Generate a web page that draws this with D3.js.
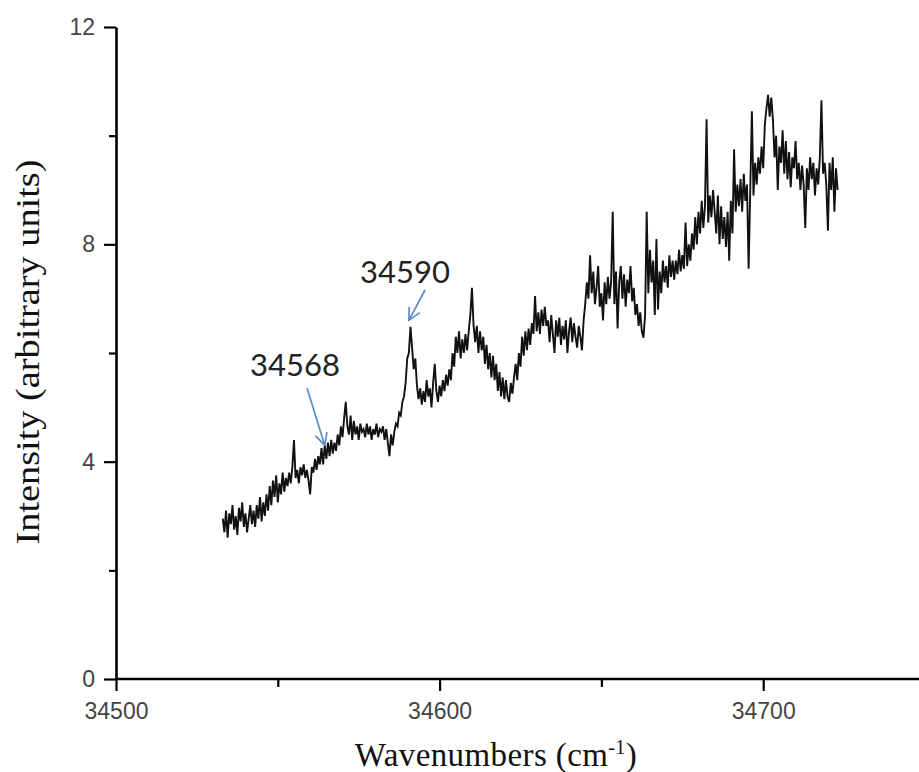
<!DOCTYPE html>
<html>
<head>
<meta charset="utf-8">
<script src="https://cdn.jsdelivr.net/npm/d3@7"></script>
<style>
  body { margin: 0; background: #fff; }
  svg { display: block; }
</style>
</head>
<body>
<svg id="chart" width="919" height="772"></svg>
<script>
// ====== Data ======
// spectrum sampled every 0.5 cm-1, starting at 34533 cm-1
const waveStart = 34533
const waveStep = 0.5
const intensity = [
  // 34533 - 34542.5
  2.95, 2.7, 3.1, 2.6, 3.05, 2.85, 3.2, 2.75, 3.0, 2.65, 3.15, 2.9, 3.25, 2.8, 3.05, 2.7, 2.95, 3.2, 2.85, 3.1,
  // 34543 - 34552.5
  2.8, 3.2, 2.95, 3.35, 2.9, 3.25, 3.0, 3.4, 3.1, 3.55, 3.2, 3.65, 3.35, 3.75, 3.25, 3.6, 3.4, 3.8, 3.45, 3.7,
  // 34553 - 34562.5
  3.55, 3.8, 3.6, 3.9, 4.4, 3.7, 3.85, 3.6, 3.9, 3.75, 3.95, 3.7, 3.85, 3.65, 3.4, 3.9, 3.8, 4.05, 3.85, 4.1,
  // 34563 - 34572.5
  3.95, 4.25, 3.95, 4.3, 4.05, 4.35, 4.1, 4.4, 4.15, 4.35, 4.2, 4.5, 4.3, 4.65, 4.45, 4.8, 5.1, 4.65, 4.5, 4.85,
  // 34573 - 34582.5
  4.4, 4.75, 4.5, 4.65, 4.4, 4.7, 4.55, 4.6, 4.45, 4.7, 4.5, 4.65, 4.4, 4.6, 4.5, 4.7, 4.45, 4.6, 4.55, 4.65,
  // 34583 - 34592.5
  4.4, 4.6, 4.35, 4.1, 4.5, 4.3, 4.55, 4.7, 4.65, 4.9, 4.85, 5.1, 5.2, 5.45, 5.9, 6.0, 6.48, 6.1, 5.7, 5.9,
  // 34593 - 34602.5
  5.4, 5.15, 5.35, 5.05, 5.3, 5.1, 5.5, 5.2, 5.35, 5.0, 5.45, 5.8, 5.3, 5.1, 5.4, 5.2, 5.5, 5.3, 5.6, 5.4,
  // 34603 - 34612.5
  5.7, 5.5, 6.0, 5.75, 6.3, 6.0, 6.4, 5.9, 6.25, 6.0, 6.35, 6.05, 6.4, 6.7, 7.2, 6.5, 6.2, 6.5, 6.0, 6.4,
  // 34613 - 34622.5
  6.05, 6.3, 5.8, 6.15, 5.7, 6.0, 5.55, 5.95, 5.5, 5.8, 5.3, 5.65, 5.2, 5.55, 5.15, 5.5, 5.2, 5.1, 5.45, 5.25,
  // 34623 - 34632.5
  5.55, 5.8, 5.5, 6.0, 5.75, 6.3, 5.95, 6.4, 6.05, 6.45, 6.15, 6.55, 6.35, 7.05, 6.4, 6.75, 6.35, 6.8, 6.5, 6.85,
  // 34633 - 34642.5
  6.5, 6.6, 6.2, 6.7, 6.35, 6.0, 6.6, 6.3, 6.65, 6.15, 6.5, 6.25, 6.6, 6.0, 6.4, 6.65, 6.2, 6.55, 6.3, 6.1,
  // 34643 - 34652.5
  6.5, 6.3, 6.05, 6.6, 6.9, 7.3, 7.0, 7.8, 7.1, 7.5, 6.9, 7.2, 7.6, 6.85, 7.1, 6.6, 7.3, 6.9, 7.4, 7.0,
  // 34653 - 34662.5
  7.3, 8.6, 6.9, 7.5, 6.45, 7.3, 7.6, 7.0, 7.45, 6.85, 7.35, 7.1, 7.6, 6.95, 7.2, 6.7, 6.9, 6.5, 6.75, 6.4,
  // 34663 - 34672.5
  6.28, 6.7, 8.6, 7.1, 7.9, 7.3, 7.7, 6.7, 8.1, 6.8, 7.5, 7.1, 7.7, 7.3, 7.6, 7.2, 7.8, 7.4, 7.7, 7.35,
  // 34673 - 34682.5
  7.7, 7.45, 7.9, 7.5, 7.8, 7.55, 8.4, 7.6, 8.0, 7.7, 8.2, 7.9, 8.5, 8.0, 8.6, 8.2, 8.8, 8.3, 8.7, 10.3,
  // 34683 - 34692.5
  8.4, 8.9, 8.5, 9.0, 8.6, 8.2, 8.9, 8.0, 8.7, 8.1, 8.5, 7.95, 8.6, 7.7, 8.8, 8.2, 9.75, 8.6, 9.1, 8.7,
  // 34693 - 34702.5
  9.2, 8.6, 9.3, 8.8, 9.1, 7.55, 9.0, 10.45, 8.9, 9.5, 9.1, 9.6, 9.3, 9.8, 9.4, 10.2, 10.5, 10.75, 10.35, 10.7,
  // 34703 - 34712.5
  10.3, 9.6, 10.0, 9.0, 9.8, 9.5, 10.1, 9.3, 9.9, 9.2, 9.7, 9.05, 9.6, 9.4, 9.9, 9.2, 9.5, 9.0, 9.45, 9.1,
  // 34713 - 34723
  8.3, 9.4, 9.0, 9.6, 9.2, 9.5, 8.9, 9.4, 9.1, 9.6, 10.65, 9.3, 9.5, 9.1, 8.25, 9.5, 9.0, 9.6, 8.6, 9.4,
  9.0
]

const xMajorTicks = [34500, 34600, 34700]
const xMinorTicks = [34550, 34650]
const yMajorTicks = [0, 4, 8, 12]
const yMinorTicks = [2, 6, 10]

// peak annotations: label, wavenumber the arrow points at, intensity at arrow tip
const peakLabels = ["34568", "34590"]
const peakWaves = [34564.5, 34590.5]
const peakTips = [4.3, 6.6]

// ====== Chart ======
const svg = d3.select("#chart")
svg.append("rect").attr("width", 919).attr("height", 772).attr("fill", "#fff")

const x = d3.scaleLinear().domain([34500, 34750]).range([116, 925])
const y = d3.scaleLinear().domain([0, 12]).range([679, 27])

const points = intensity.map((v, i) => ({w: waveStart + i * waveStep, v}))

const line = d3.line()
  .x(d => x(d.w))
  .y(d => y(d.v))

svg.append("path")
  .datum(points)
  .attr("fill", "none")
  .attr("stroke", "#111")
  .attr("stroke-width", 1.9)
  .attr("stroke-linejoin", "miter")
  .attr("d", line)

// axes
const tickFont = "'Liberation Sans', Arial, sans-serif"

const xAxis = svg.append("g")
  .attr("transform", `translate(0,${y(0)})`)
  .call(d3.axisBottom(x).tickValues(xMajorTicks).tickFormat(d3.format("d"))
    .tickSize(12).tickSizeOuter(0).tickPadding(12))
xAxis.append("g")
  .call(d3.axisBottom(x).tickValues(xMinorTicks).tickSize(8).tickFormat(""))
  .select(".domain").remove()

const yAxis = svg.append("g")
  .attr("transform", `translate(${x(34500)},0)`)
  .call(d3.axisLeft(y).tickValues(yMajorTicks).tickSize(12).tickSizeOuter(0).tickPadding(9))
yAxis.append("g")
  .call(d3.axisLeft(y).tickValues(yMinorTicks).tickSize(7).tickFormat(""))
  .select(".domain").remove()

svg.selectAll(".domain").attr("stroke", "#000").attr("stroke-width", 2.6)
svg.selectAll(".tick line").attr("stroke", "#000").attr("stroke-width", 2.2)
svg.selectAll(".tick text")
  .attr("font-family", tickFont)
  .attr("font-size", 23)
  .attr("fill", "#444")
// x domain line runs to the right edge of the picture
xAxis.select(".domain").attr("d", `M${x(34500)},0H919`)

// axis titles
svg.append("text")
  .attr("x", 496)
  .attr("y", 766)
  .attr("text-anchor", "middle")
  .attr("font-family", "'Liberation Serif', 'Times New Roman', serif")
  .attr("font-size", 33)
  .attr("letter-spacing", 0.4)
  .attr("fill", "#111")
  .call(t => {
    t.append("tspan").text("Wavenumbers (cm")
    t.append("tspan").attr("dy", -12).attr("font-size", 20).text("-1")
    t.append("tspan").attr("dy", 12).text(")")
  })

svg.append("text")
  .attr("transform", "translate(39,352) rotate(-90)")
  .attr("text-anchor", "middle")
  .attr("font-family", "'Liberation Serif', 'Times New Roman', serif")
  .attr("font-size", 34)
  .attr("textLength", 385)
  .attr("lengthAdjust", "spacingAndGlyphs")
  .attr("fill", "#111")
  .text("Intensity (arbitrary units)")

// annotations
const arrowColor = "#5b8bc9"
svg.append("defs").append("marker")
  .attr("id", "arrowhead")
  .attr("viewBox", "0 0 14 14")
  .attr("refX", 13)
  .attr("refY", 7)
  .attr("markerWidth", 14)
  .attr("markerHeight", 14)
  .attr("markerUnits", "userSpaceOnUse")
  .attr("orient", "auto")
  .append("path")
  .attr("d", "M1,1L13,7L1,13")
  .attr("fill", "none")
  .attr("stroke", arrowColor)
  .attr("stroke-width", 1.7)

const labelPos = [[250, 376], [360, 283]]
const arrowStart = [[307, 388], [425, 290]]

peakLabels.forEach((lab, i) => {
  svg.append("text")
    .attr("x", labelPos[i][0])
    .attr("y", labelPos[i][1])
    .attr("font-family", "Lato, 'Open Sans', sans-serif")
    .attr("font-size", 31)
    .attr("fill", "#222")
    .text(lab)

  svg.append("line")
    .attr("x1", arrowStart[i][0])
    .attr("y1", arrowStart[i][1])
    .attr("x2", x(peakWaves[i]))
    .attr("y2", y(peakTips[i]))
    .attr("stroke", arrowColor)
    .attr("stroke-width", 1.7)
    .attr("marker-end", "url(#arrowhead)")
})
</script>
</body>
</html>
